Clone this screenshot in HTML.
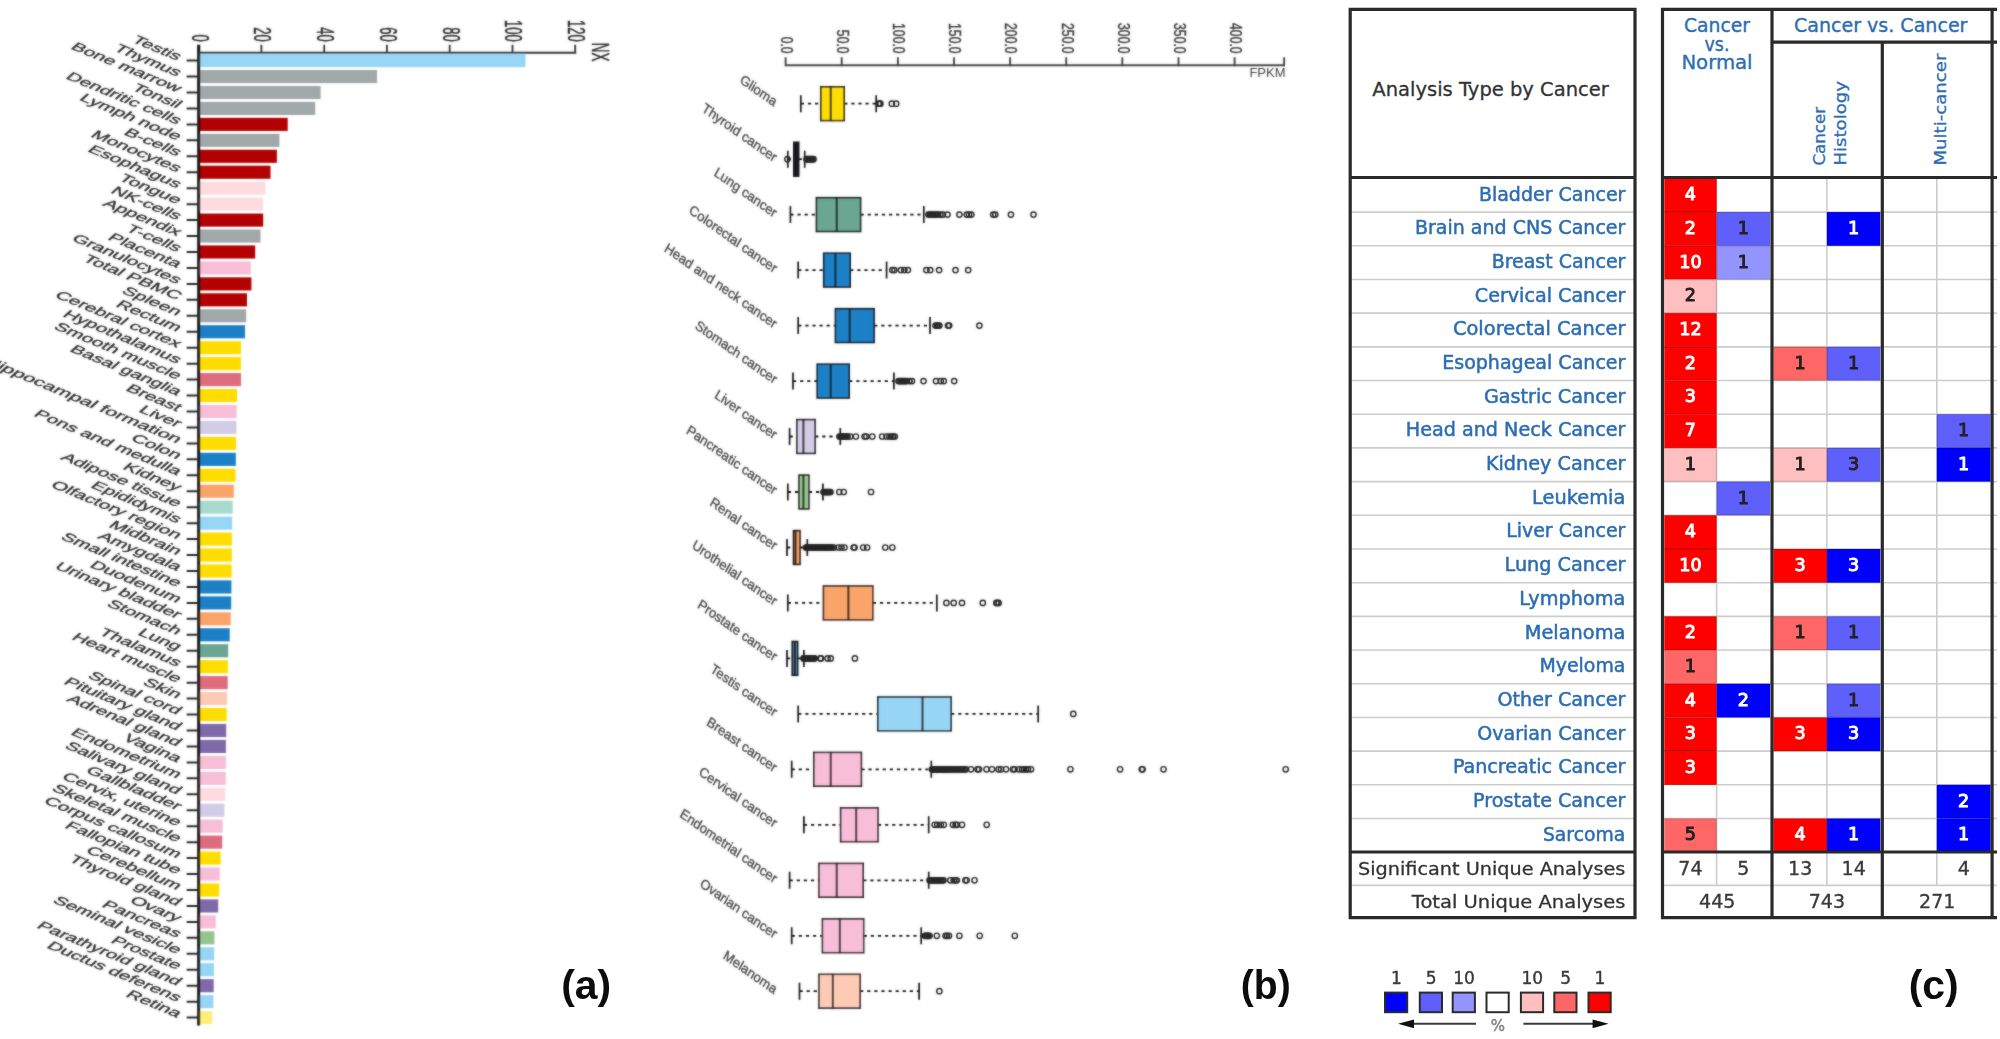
<!DOCTYPE html>
<html lang="en"><head><meta charset="utf-8"><title>Figure</title>
<style>html,body{margin:0;padding:0;background:#fff}svg{display:block}</style>
</head><body>
<svg width="2000" height="1039" viewBox="0 0 2000 1039">
<rect width="2000" height="1039" fill="#fff"/>
<defs><filter id="blA" x="-2%" y="-2%" width="104%" height="104%"><feGaussianBlur in="SourceGraphic" stdDeviation="0.8" result="b"/><feComposite in="b" in2="SourceGraphic" operator="arithmetic" k1="0" k2="0.5" k3="0.5" k4="0"/></filter></defs>
<g id="panel-a" filter="url(#blA)">
<rect x="198.7" y="54.05" width="326.8" height="13.1" fill="#97d5f6"/>
<rect x="198.7" y="70.00" width="178.3" height="13.1" fill="#a1a8a9"/>
<rect x="198.7" y="85.95" width="121.9" height="13.1" fill="#a1a8a9"/>
<rect x="198.7" y="101.90" width="116.5" height="13.1" fill="#a1a8a9"/>
<rect x="198.7" y="117.85" width="89.0" height="13.1" fill="#b30000"/>
<rect x="198.7" y="133.80" width="80.7" height="13.1" fill="#a1a8a9"/>
<rect x="198.7" y="149.75" width="78.2" height="13.1" fill="#b30000"/>
<rect x="198.7" y="165.70" width="71.8" height="13.1" fill="#b30000"/>
<rect x="198.7" y="181.65" width="66.8" height="13.1" fill="#fddbdf"/>
<rect x="198.7" y="197.60" width="64.3" height="13.1" fill="#fddbdf"/>
<rect x="198.7" y="213.55" width="64.5" height="13.1" fill="#b30000"/>
<rect x="198.7" y="229.50" width="61.8" height="13.1" fill="#a1a8a9"/>
<rect x="198.7" y="245.45" width="56.5" height="13.1" fill="#b30000"/>
<rect x="198.7" y="261.40" width="52.1" height="13.1" fill="#f8bdd7"/>
<rect x="198.7" y="277.35" width="52.7" height="13.1" fill="#b30000"/>
<rect x="198.7" y="293.30" width="48.3" height="13.1" fill="#b30000"/>
<rect x="198.7" y="309.25" width="47.5" height="13.1" fill="#a1a8a9"/>
<rect x="198.7" y="325.20" width="46.3" height="13.1" fill="#1a80c6"/>
<rect x="198.7" y="341.15" width="42.3" height="13.1" fill="#ffdd00"/>
<rect x="198.7" y="357.10" width="42.3" height="13.1" fill="#ffdd00"/>
<rect x="198.7" y="373.05" width="42.3" height="13.1" fill="#de6c7d"/>
<rect x="198.7" y="389.00" width="38.4" height="13.1" fill="#ffdd00"/>
<rect x="198.7" y="404.95" width="37.9" height="13.1" fill="#f8bdd7"/>
<rect x="198.7" y="420.90" width="37.7" height="13.1" fill="#d3cce6"/>
<rect x="198.7" y="436.85" width="37.4" height="13.1" fill="#ffdd00"/>
<rect x="198.7" y="452.80" width="37.1" height="13.1" fill="#1a80c6"/>
<rect x="198.7" y="468.75" width="36.9" height="13.1" fill="#ffdd00"/>
<rect x="198.7" y="484.70" width="35.1" height="13.1" fill="#f9a468"/>
<rect x="198.7" y="500.65" width="34.0" height="13.1" fill="#a7dacd"/>
<rect x="198.7" y="516.60" width="33.5" height="13.1" fill="#97d5f6"/>
<rect x="198.7" y="532.55" width="33.2" height="13.1" fill="#ffdd00"/>
<rect x="198.7" y="548.50" width="33.2" height="13.1" fill="#ffdd00"/>
<rect x="198.7" y="564.45" width="33.0" height="13.1" fill="#ffdd00"/>
<rect x="198.7" y="580.40" width="32.7" height="13.1" fill="#1a80c6"/>
<rect x="198.7" y="596.35" width="32.5" height="13.1" fill="#1a80c6"/>
<rect x="198.7" y="612.30" width="32.0" height="13.1" fill="#f9a468"/>
<rect x="198.7" y="628.25" width="31.0" height="13.1" fill="#1a80c6"/>
<rect x="198.7" y="644.20" width="29.5" height="13.1" fill="#6aa692"/>
<rect x="198.7" y="660.15" width="29.2" height="13.1" fill="#ffdd00"/>
<rect x="198.7" y="676.10" width="29.0" height="13.1" fill="#de6c7d"/>
<rect x="198.7" y="692.05" width="28.5" height="13.1" fill="#fdcab5"/>
<rect x="198.7" y="708.00" width="28.0" height="13.1" fill="#ffdd00"/>
<rect x="198.7" y="723.95" width="27.5" height="13.1" fill="#7f6aa9"/>
<rect x="198.7" y="739.90" width="27.2" height="13.1" fill="#7f6aa9"/>
<rect x="198.7" y="755.85" width="27.2" height="13.1" fill="#f8bdd7"/>
<rect x="198.7" y="771.80" width="27.0" height="13.1" fill="#f8bdd7"/>
<rect x="198.7" y="787.75" width="26.5" height="13.1" fill="#fddbdf"/>
<rect x="198.7" y="803.70" width="25.7" height="13.1" fill="#d3cce6"/>
<rect x="198.7" y="819.65" width="24.0" height="13.1" fill="#f8bdd7"/>
<rect x="198.7" y="835.60" width="23.5" height="13.1" fill="#de6c7d"/>
<rect x="198.7" y="851.55" width="22.0" height="13.1" fill="#ffdd00"/>
<rect x="198.7" y="867.50" width="21.0" height="13.1" fill="#f8bdd7"/>
<rect x="198.7" y="883.45" width="20.5" height="13.1" fill="#ffdd00"/>
<rect x="198.7" y="899.40" width="19.5" height="13.1" fill="#7f6aa9"/>
<rect x="198.7" y="915.35" width="17.0" height="13.1" fill="#f8bdd7"/>
<rect x="198.7" y="931.30" width="15.7" height="13.1" fill="#96c491"/>
<rect x="198.7" y="947.25" width="15.5" height="13.1" fill="#97d5f6"/>
<rect x="198.7" y="963.20" width="15.2" height="13.1" fill="#97d5f6"/>
<rect x="198.7" y="979.15" width="15.0" height="13.1" fill="#7f6aa9"/>
<rect x="198.7" y="995.10" width="14.7" height="13.1" fill="#97d5f6"/>
<rect x="198.7" y="1011.05" width="13.5" height="13.1" fill="#ffee77"/>
<path d="M198.7 44.8 V1025.6" stroke="#111" stroke-width="3" fill="none"/>
<path d="M198.7 52.8 H576.2" stroke="#333" stroke-width="2" fill="none"/>
<path d="M261.4 52.8 V44.8 M324.2 52.8 V44.8 M386.9 52.8 V44.8 M449.7 52.8 V44.8 M512.5 52.8 V44.8 M575.2 52.8 V44.8 " stroke="#333" stroke-width="1.8" fill="none"/>
<path d="M198.7 60.60 H186.7 M198.7 76.55 H186.7 M198.7 92.50 H186.7 M198.7 108.45 H186.7 M198.7 124.40 H186.7 M198.7 140.35 H186.7 M198.7 156.30 H186.7 M198.7 172.25 H186.7 M198.7 188.20 H186.7 M198.7 204.15 H186.7 M198.7 220.10 H186.7 M198.7 236.05 H186.7 M198.7 252.00 H186.7 M198.7 267.95 H186.7 M198.7 283.90 H186.7 M198.7 299.85 H186.7 M198.7 315.80 H186.7 M198.7 331.75 H186.7 M198.7 347.70 H186.7 M198.7 363.65 H186.7 M198.7 379.60 H186.7 M198.7 395.55 H186.7 M198.7 411.50 H186.7 M198.7 427.45 H186.7 M198.7 443.40 H186.7 M198.7 459.35 H186.7 M198.7 475.30 H186.7 M198.7 491.25 H186.7 M198.7 507.20 H186.7 M198.7 523.15 H186.7 M198.7 539.10 H186.7 M198.7 555.05 H186.7 M198.7 571.00 H186.7 M198.7 586.95 H186.7 M198.7 602.90 H186.7 M198.7 618.85 H186.7 M198.7 634.80 H186.7 M198.7 650.75 H186.7 M198.7 666.70 H186.7 M198.7 682.65 H186.7 M198.7 698.60 H186.7 M198.7 714.55 H186.7 M198.7 730.50 H186.7 M198.7 746.45 H186.7 M198.7 762.40 H186.7 M198.7 778.35 H186.7 M198.7 794.30 H186.7 M198.7 810.25 H186.7 M198.7 826.20 H186.7 M198.7 842.15 H186.7 M198.7 858.10 H186.7 M198.7 874.05 H186.7 M198.7 890.00 H186.7 M198.7 905.95 H186.7 M198.7 921.90 H186.7 M198.7 937.85 H186.7 M198.7 953.80 H186.7 M198.7 969.75 H186.7 M198.7 985.70 H186.7 M198.7 1001.65 H186.7 M198.7 1017.60 H186.7 " stroke="#2a2a2a" stroke-width="2" fill="none"/>
<text transform="matrix(0 0.545 -1.02 0 191.5 41.8)" text-anchor="end" font-family='"Liberation Sans", Arial, sans-serif' font-size="24" fill="#2e2e2e" stroke="#2e2e2e" stroke-width="0.5">0</text>
<text transform="matrix(0 0.545 -1.02 0 254.2 41.8)" text-anchor="end" font-family='"Liberation Sans", Arial, sans-serif' font-size="24" fill="#2e2e2e" stroke="#2e2e2e" stroke-width="0.5">20</text>
<text transform="matrix(0 0.545 -1.02 0 317.0 41.8)" text-anchor="end" font-family='"Liberation Sans", Arial, sans-serif' font-size="24" fill="#2e2e2e" stroke="#2e2e2e" stroke-width="0.5">40</text>
<text transform="matrix(0 0.545 -1.02 0 379.8 41.8)" text-anchor="end" font-family='"Liberation Sans", Arial, sans-serif' font-size="24" fill="#2e2e2e" stroke="#2e2e2e" stroke-width="0.5">60</text>
<text transform="matrix(0 0.545 -1.02 0 442.5 41.8)" text-anchor="end" font-family='"Liberation Sans", Arial, sans-serif' font-size="24" fill="#2e2e2e" stroke="#2e2e2e" stroke-width="0.5">80</text>
<text transform="matrix(0 0.545 -1.02 0 505.3 41.8)" text-anchor="end" font-family='"Liberation Sans", Arial, sans-serif' font-size="24" fill="#2e2e2e" stroke="#2e2e2e" stroke-width="0.5">100</text>
<text transform="matrix(0 0.545 -1.02 0 568.0 41.8)" text-anchor="end" font-family='"Liberation Sans", Arial, sans-serif' font-size="24" fill="#2e2e2e" stroke="#2e2e2e" stroke-width="0.5">120</text>
<text transform="matrix(0 0.56 -1.02 0 592.0 61.5)" text-anchor="end" font-family='"Liberation Sans", Arial, sans-serif' font-size="24" fill="#2e2e2e" stroke="#2e2e2e" stroke-width="0.5">NX</text>
<text transform="matrix(1.2010 0.4975 -0.6911 0.6223 176.8 60.60)" text-anchor="end" font-family='"Liberation Sans", Arial, sans-serif' font-size="15.0" fill="#303030" stroke="#303030" stroke-width="0.38">Testis</text>
<text transform="matrix(1.2010 0.4975 -0.6911 0.6223 176.8 76.55)" text-anchor="end" font-family='"Liberation Sans", Arial, sans-serif' font-size="15.0" fill="#303030" stroke="#303030" stroke-width="0.38">Thymus</text>
<text transform="matrix(1.2010 0.4975 -0.6911 0.6223 176.8 92.50)" text-anchor="end" font-family='"Liberation Sans", Arial, sans-serif' font-size="15.0" fill="#303030" stroke="#303030" stroke-width="0.38">Bone marrow</text>
<text transform="matrix(1.2010 0.4975 -0.6911 0.6223 176.8 108.45)" text-anchor="end" font-family='"Liberation Sans", Arial, sans-serif' font-size="15.0" fill="#303030" stroke="#303030" stroke-width="0.38">Tonsil</text>
<text transform="matrix(1.2010 0.4975 -0.6911 0.6223 176.8 124.40)" text-anchor="end" font-family='"Liberation Sans", Arial, sans-serif' font-size="15.0" fill="#303030" stroke="#303030" stroke-width="0.38">Dendritic cells</text>
<text transform="matrix(1.2010 0.4975 -0.6911 0.6223 176.8 140.35)" text-anchor="end" font-family='"Liberation Sans", Arial, sans-serif' font-size="15.0" fill="#303030" stroke="#303030" stroke-width="0.38">Lymph node</text>
<text transform="matrix(1.2010 0.4975 -0.6911 0.6223 176.8 156.30)" text-anchor="end" font-family='"Liberation Sans", Arial, sans-serif' font-size="15.0" fill="#303030" stroke="#303030" stroke-width="0.38">B-cells</text>
<text transform="matrix(1.2010 0.4975 -0.6911 0.6223 176.8 172.25)" text-anchor="end" font-family='"Liberation Sans", Arial, sans-serif' font-size="15.0" fill="#303030" stroke="#303030" stroke-width="0.38">Monocytes</text>
<text transform="matrix(1.2010 0.4975 -0.6911 0.6223 176.8 188.20)" text-anchor="end" font-family='"Liberation Sans", Arial, sans-serif' font-size="15.0" fill="#303030" stroke="#303030" stroke-width="0.38">Esophagus</text>
<text transform="matrix(1.2010 0.4975 -0.6911 0.6223 176.8 204.15)" text-anchor="end" font-family='"Liberation Sans", Arial, sans-serif' font-size="15.0" fill="#303030" stroke="#303030" stroke-width="0.38">Tongue</text>
<text transform="matrix(1.2010 0.4975 -0.6911 0.6223 176.8 220.10)" text-anchor="end" font-family='"Liberation Sans", Arial, sans-serif' font-size="15.0" fill="#303030" stroke="#303030" stroke-width="0.38">NK-cells</text>
<text transform="matrix(1.2010 0.4975 -0.6911 0.6223 176.8 236.05)" text-anchor="end" font-family='"Liberation Sans", Arial, sans-serif' font-size="15.0" fill="#303030" stroke="#303030" stroke-width="0.38">Appendix</text>
<text transform="matrix(1.2010 0.4975 -0.6911 0.6223 176.8 252.00)" text-anchor="end" font-family='"Liberation Sans", Arial, sans-serif' font-size="15.0" fill="#303030" stroke="#303030" stroke-width="0.38">T-cells</text>
<text transform="matrix(1.2010 0.4975 -0.6911 0.6223 176.8 267.95)" text-anchor="end" font-family='"Liberation Sans", Arial, sans-serif' font-size="15.0" fill="#303030" stroke="#303030" stroke-width="0.38">Placenta</text>
<text transform="matrix(1.2010 0.4975 -0.6911 0.6223 176.8 283.90)" text-anchor="end" font-family='"Liberation Sans", Arial, sans-serif' font-size="15.0" fill="#303030" stroke="#303030" stroke-width="0.38">Granulocytes</text>
<text transform="matrix(1.2010 0.4975 -0.6911 0.6223 176.8 299.85)" text-anchor="end" font-family='"Liberation Sans", Arial, sans-serif' font-size="15.0" fill="#303030" stroke="#303030" stroke-width="0.38">Total PBMC</text>
<text transform="matrix(1.2010 0.4975 -0.6911 0.6223 176.8 315.80)" text-anchor="end" font-family='"Liberation Sans", Arial, sans-serif' font-size="15.0" fill="#303030" stroke="#303030" stroke-width="0.38">Spleen</text>
<text transform="matrix(1.2010 0.4975 -0.6911 0.6223 176.8 331.75)" text-anchor="end" font-family='"Liberation Sans", Arial, sans-serif' font-size="15.0" fill="#303030" stroke="#303030" stroke-width="0.38">Rectum</text>
<text transform="matrix(1.2010 0.4975 -0.6911 0.6223 176.8 347.70)" text-anchor="end" font-family='"Liberation Sans", Arial, sans-serif' font-size="15.0" fill="#303030" stroke="#303030" stroke-width="0.38">Cerebral cortex</text>
<text transform="matrix(1.2010 0.4975 -0.6911 0.6223 176.8 363.65)" text-anchor="end" font-family='"Liberation Sans", Arial, sans-serif' font-size="15.0" fill="#303030" stroke="#303030" stroke-width="0.38">Hypothalamus</text>
<text transform="matrix(1.2010 0.4975 -0.6911 0.6223 176.8 379.60)" text-anchor="end" font-family='"Liberation Sans", Arial, sans-serif' font-size="15.0" fill="#303030" stroke="#303030" stroke-width="0.38">Smooth muscle</text>
<text transform="matrix(1.2010 0.4975 -0.6911 0.6223 176.8 395.55)" text-anchor="end" font-family='"Liberation Sans", Arial, sans-serif' font-size="15.0" fill="#303030" stroke="#303030" stroke-width="0.38">Basal ganglia</text>
<text transform="matrix(1.2010 0.4975 -0.6911 0.6223 176.8 411.50)" text-anchor="end" font-family='"Liberation Sans", Arial, sans-serif' font-size="15.0" fill="#303030" stroke="#303030" stroke-width="0.38">Breast</text>
<text transform="matrix(1.2010 0.4975 -0.6911 0.6223 176.8 427.45)" text-anchor="end" font-family='"Liberation Sans", Arial, sans-serif' font-size="15.0" fill="#303030" stroke="#303030" stroke-width="0.38">Liver</text>
<text transform="matrix(1.2611 0.5224 -0.6911 0.6223 176.8 443.40)" text-anchor="end" font-family='"Liberation Sans", Arial, sans-serif' font-size="15.0" fill="#303030" stroke="#303030" stroke-width="0.38">Hippocampal formation</text>
<text transform="matrix(1.2010 0.4975 -0.6911 0.6223 176.8 459.35)" text-anchor="end" font-family='"Liberation Sans", Arial, sans-serif' font-size="15.0" fill="#303030" stroke="#303030" stroke-width="0.38">Colon</text>
<text transform="matrix(1.2010 0.4975 -0.6911 0.6223 176.8 475.30)" text-anchor="end" font-family='"Liberation Sans", Arial, sans-serif' font-size="15.0" fill="#303030" stroke="#303030" stroke-width="0.38">Pons and medulla</text>
<text transform="matrix(1.2010 0.4975 -0.6911 0.6223 176.8 491.25)" text-anchor="end" font-family='"Liberation Sans", Arial, sans-serif' font-size="15.0" fill="#303030" stroke="#303030" stroke-width="0.38">Kidney</text>
<text transform="matrix(1.2010 0.4975 -0.6911 0.6223 176.8 507.20)" text-anchor="end" font-family='"Liberation Sans", Arial, sans-serif' font-size="15.0" fill="#303030" stroke="#303030" stroke-width="0.38">Adipose tissue</text>
<text transform="matrix(1.2010 0.4975 -0.6911 0.6223 176.8 523.15)" text-anchor="end" font-family='"Liberation Sans", Arial, sans-serif' font-size="15.0" fill="#303030" stroke="#303030" stroke-width="0.38">Epididymis</text>
<text transform="matrix(1.2010 0.4975 -0.6911 0.6223 176.8 539.10)" text-anchor="end" font-family='"Liberation Sans", Arial, sans-serif' font-size="15.0" fill="#303030" stroke="#303030" stroke-width="0.38">Olfactory region</text>
<text transform="matrix(1.2010 0.4975 -0.6911 0.6223 176.8 555.05)" text-anchor="end" font-family='"Liberation Sans", Arial, sans-serif' font-size="15.0" fill="#303030" stroke="#303030" stroke-width="0.38">Midbrain</text>
<text transform="matrix(1.2010 0.4975 -0.6911 0.6223 176.8 571.00)" text-anchor="end" font-family='"Liberation Sans", Arial, sans-serif' font-size="15.0" fill="#303030" stroke="#303030" stroke-width="0.38">Amygdala</text>
<text transform="matrix(1.2010 0.4975 -0.6911 0.6223 176.8 586.95)" text-anchor="end" font-family='"Liberation Sans", Arial, sans-serif' font-size="15.0" fill="#303030" stroke="#303030" stroke-width="0.38">Small intestine</text>
<text transform="matrix(1.2010 0.4975 -0.6911 0.6223 176.8 602.90)" text-anchor="end" font-family='"Liberation Sans", Arial, sans-serif' font-size="15.0" fill="#303030" stroke="#303030" stroke-width="0.38">Duodenum</text>
<text transform="matrix(1.2010 0.4975 -0.6911 0.6223 176.8 618.85)" text-anchor="end" font-family='"Liberation Sans", Arial, sans-serif' font-size="15.0" fill="#303030" stroke="#303030" stroke-width="0.38">Urinary bladder</text>
<text transform="matrix(1.2010 0.4975 -0.6911 0.6223 176.8 634.80)" text-anchor="end" font-family='"Liberation Sans", Arial, sans-serif' font-size="15.0" fill="#303030" stroke="#303030" stroke-width="0.38">Stomach</text>
<text transform="matrix(1.2010 0.4975 -0.6911 0.6223 176.8 650.75)" text-anchor="end" font-family='"Liberation Sans", Arial, sans-serif' font-size="15.0" fill="#303030" stroke="#303030" stroke-width="0.38">Lung</text>
<text transform="matrix(1.2010 0.4975 -0.6911 0.6223 176.8 666.70)" text-anchor="end" font-family='"Liberation Sans", Arial, sans-serif' font-size="15.0" fill="#303030" stroke="#303030" stroke-width="0.38">Thalamus</text>
<text transform="matrix(1.2010 0.4975 -0.6911 0.6223 176.8 682.65)" text-anchor="end" font-family='"Liberation Sans", Arial, sans-serif' font-size="15.0" fill="#303030" stroke="#303030" stroke-width="0.38">Heart muscle</text>
<text transform="matrix(1.2010 0.4975 -0.6911 0.6223 176.8 698.60)" text-anchor="end" font-family='"Liberation Sans", Arial, sans-serif' font-size="15.0" fill="#303030" stroke="#303030" stroke-width="0.38">Skin</text>
<text transform="matrix(1.2010 0.4975 -0.6911 0.6223 176.8 714.55)" text-anchor="end" font-family='"Liberation Sans", Arial, sans-serif' font-size="15.0" fill="#303030" stroke="#303030" stroke-width="0.38">Spinal cord</text>
<text transform="matrix(1.2010 0.4975 -0.6911 0.6223 176.8 730.50)" text-anchor="end" font-family='"Liberation Sans", Arial, sans-serif' font-size="15.0" fill="#303030" stroke="#303030" stroke-width="0.38">Pituitary gland</text>
<text transform="matrix(1.2010 0.4975 -0.6911 0.6223 176.8 746.45)" text-anchor="end" font-family='"Liberation Sans", Arial, sans-serif' font-size="15.0" fill="#303030" stroke="#303030" stroke-width="0.38">Adrenal gland</text>
<text transform="matrix(1.2010 0.4975 -0.6911 0.6223 176.8 762.40)" text-anchor="end" font-family='"Liberation Sans", Arial, sans-serif' font-size="15.0" fill="#303030" stroke="#303030" stroke-width="0.38">Vagina</text>
<text transform="matrix(1.2010 0.4975 -0.6911 0.6223 176.8 778.35)" text-anchor="end" font-family='"Liberation Sans", Arial, sans-serif' font-size="15.0" fill="#303030" stroke="#303030" stroke-width="0.38">Endometrium</text>
<text transform="matrix(1.2010 0.4975 -0.6911 0.6223 176.8 794.30)" text-anchor="end" font-family='"Liberation Sans", Arial, sans-serif' font-size="15.0" fill="#303030" stroke="#303030" stroke-width="0.38">Salivary gland</text>
<text transform="matrix(1.2010 0.4975 -0.6911 0.6223 176.8 810.25)" text-anchor="end" font-family='"Liberation Sans", Arial, sans-serif' font-size="15.0" fill="#303030" stroke="#303030" stroke-width="0.38">Gallbladder</text>
<text transform="matrix(1.2010 0.4975 -0.6911 0.6223 176.8 826.20)" text-anchor="end" font-family='"Liberation Sans", Arial, sans-serif' font-size="15.0" fill="#303030" stroke="#303030" stroke-width="0.38">Cervix, uterine</text>
<text transform="matrix(1.2010 0.4975 -0.6911 0.6223 176.8 842.15)" text-anchor="end" font-family='"Liberation Sans", Arial, sans-serif' font-size="15.0" fill="#303030" stroke="#303030" stroke-width="0.38">Skeletal muscle</text>
<text transform="matrix(1.2010 0.4975 -0.6911 0.6223 176.8 858.10)" text-anchor="end" font-family='"Liberation Sans", Arial, sans-serif' font-size="15.0" fill="#303030" stroke="#303030" stroke-width="0.38">Corpus callosum</text>
<text transform="matrix(1.2010 0.4975 -0.6911 0.6223 176.8 874.05)" text-anchor="end" font-family='"Liberation Sans", Arial, sans-serif' font-size="15.0" fill="#303030" stroke="#303030" stroke-width="0.38">Fallopian tube</text>
<text transform="matrix(1.2010 0.4975 -0.6911 0.6223 176.8 890.00)" text-anchor="end" font-family='"Liberation Sans", Arial, sans-serif' font-size="15.0" fill="#303030" stroke="#303030" stroke-width="0.38">Cerebellum</text>
<text transform="matrix(1.2010 0.4975 -0.6911 0.6223 176.8 905.95)" text-anchor="end" font-family='"Liberation Sans", Arial, sans-serif' font-size="15.0" fill="#303030" stroke="#303030" stroke-width="0.38">Thyroid gland</text>
<text transform="matrix(1.2010 0.4975 -0.6911 0.6223 176.8 921.90)" text-anchor="end" font-family='"Liberation Sans", Arial, sans-serif' font-size="15.0" fill="#303030" stroke="#303030" stroke-width="0.38">Ovary</text>
<text transform="matrix(1.2010 0.4975 -0.6911 0.6223 176.8 937.85)" text-anchor="end" font-family='"Liberation Sans", Arial, sans-serif' font-size="15.0" fill="#303030" stroke="#303030" stroke-width="0.38">Pancreas</text>
<text transform="matrix(1.2010 0.4975 -0.6911 0.6223 176.8 953.80)" text-anchor="end" font-family='"Liberation Sans", Arial, sans-serif' font-size="15.0" fill="#303030" stroke="#303030" stroke-width="0.38">Seminal vesicle</text>
<text transform="matrix(1.2010 0.4975 -0.6911 0.6223 176.8 969.75)" text-anchor="end" font-family='"Liberation Sans", Arial, sans-serif' font-size="15.0" fill="#303030" stroke="#303030" stroke-width="0.38">Prostate</text>
<text transform="matrix(1.2010 0.4975 -0.6911 0.6223 176.8 985.70)" text-anchor="end" font-family='"Liberation Sans", Arial, sans-serif' font-size="15.0" fill="#303030" stroke="#303030" stroke-width="0.38">Parathyroid gland</text>
<text transform="matrix(1.2010 0.4975 -0.6911 0.6223 176.8 1001.65)" text-anchor="end" font-family='"Liberation Sans", Arial, sans-serif' font-size="15.0" fill="#303030" stroke="#303030" stroke-width="0.38">Ductus deferens</text>
<text transform="matrix(1.2010 0.4975 -0.6911 0.6223 176.8 1017.60)" text-anchor="end" font-family='"Liberation Sans", Arial, sans-serif' font-size="15.0" fill="#303030" stroke="#303030" stroke-width="0.38">Retina</text>
</g>
<defs><filter id="blB" x="-2%" y="-2%" width="104%" height="104%"><feGaussianBlur in="SourceGraphic" stdDeviation="0.8" result="b"/><feComposite in="b" in2="SourceGraphic" operator="arithmetic" k1="0" k2="0.5" k3="0.5" k4="0"/></filter></defs>
<g id="panel-b" filter="url(#blB)">
<path d="M785.6 65.2 H1285.0" stroke="#444" stroke-width="2" fill="none"/>
<path d="M785.6 66.2 V57.2 M841.7 66.2 V57.2 M897.9 66.2 V57.2 M954.0 66.2 V57.2 M1010.1 66.2 V57.2 M1066.2 66.2 V57.2 M1122.3 66.2 V57.2 M1178.5 66.2 V57.2 M1234.6 66.2 V57.2 M1284.1 66.2 V57.2" stroke="#444" stroke-width="1.9" fill="none"/>
<text transform="matrix(0 1.0 -1.28 0 780.9 53.6)" text-anchor="end" font-family='"Liberation Sans", Arial, sans-serif' font-size="12.2" fill="#3a3a3a" stroke="#3a3a3a" stroke-width="0.35">0.0</text>
<text transform="matrix(0 1.0 -1.28 0 837.0 53.6)" text-anchor="end" font-family='"Liberation Sans", Arial, sans-serif' font-size="12.2" fill="#3a3a3a" stroke="#3a3a3a" stroke-width="0.35">50.0</text>
<text transform="matrix(0 1.0 -1.28 0 893.1 53.6)" text-anchor="end" font-family='"Liberation Sans", Arial, sans-serif' font-size="12.2" fill="#3a3a3a" stroke="#3a3a3a" stroke-width="0.35">100.0</text>
<text transform="matrix(0 1.0 -1.28 0 949.3 53.6)" text-anchor="end" font-family='"Liberation Sans", Arial, sans-serif' font-size="12.2" fill="#3a3a3a" stroke="#3a3a3a" stroke-width="0.35">150.0</text>
<text transform="matrix(0 1.0 -1.28 0 1005.4 53.6)" text-anchor="end" font-family='"Liberation Sans", Arial, sans-serif' font-size="12.2" fill="#3a3a3a" stroke="#3a3a3a" stroke-width="0.35">200.0</text>
<text transform="matrix(0 1.0 -1.28 0 1061.5 53.6)" text-anchor="end" font-family='"Liberation Sans", Arial, sans-serif' font-size="12.2" fill="#3a3a3a" stroke="#3a3a3a" stroke-width="0.35">250.0</text>
<text transform="matrix(0 1.0 -1.28 0 1117.6 53.6)" text-anchor="end" font-family='"Liberation Sans", Arial, sans-serif' font-size="12.2" fill="#3a3a3a" stroke="#3a3a3a" stroke-width="0.35">300.0</text>
<text transform="matrix(0 1.0 -1.28 0 1173.8 53.6)" text-anchor="end" font-family='"Liberation Sans", Arial, sans-serif' font-size="12.2" fill="#3a3a3a" stroke="#3a3a3a" stroke-width="0.35">350.0</text>
<text transform="matrix(0 1.0 -1.28 0 1229.9 53.6)" text-anchor="end" font-family='"Liberation Sans", Arial, sans-serif' font-size="12.2" fill="#3a3a3a" stroke="#3a3a3a" stroke-width="0.35">400.0</text>
<text x="1285.5" y="77.4" text-anchor="end" font-family='"Liberation Sans", Arial, sans-serif' font-size="13" fill="#444">FPKM</text>
<path d="M800.8 103.7 H820.8 M844.2 103.7 H876.2" stroke="#151515" stroke-width="1.8" stroke-dasharray="3.2 3.9" fill="none"/>
<path d="M800.8 95.2 V112.2 M876.2 95.2 V112.2" stroke="#161616" stroke-width="1.7" fill="none"/>
<rect x="820.8" y="86.8" width="23.4" height="33.8" fill="#ffdd00" stroke="#161616" stroke-width="1.6"/>
<path d="M830.7 86.8 V120.6" stroke="#161616" stroke-width="1.9" fill="none"/>
<g fill="none" stroke="#262626" stroke-width="1.4"><circle cx="878.6" cy="103.7" r="2.65"/><circle cx="879.6" cy="103.7" r="2.65"/><circle cx="880.4" cy="103.7" r="2.65"/><circle cx="891.8" cy="103.7" r="2.65"/><circle cx="896.2" cy="103.7" r="2.65"/></g>
<path d="M787.8 159.2 H793.8 M798.7 159.2 H804.7" stroke="#151515" stroke-width="1.8" stroke-dasharray="3.2 3.9" fill="none"/>
<path d="M787.8 150.7 V167.7 M804.7 150.7 V167.7" stroke="#161616" stroke-width="1.7" fill="none"/>
<rect x="793.8" y="142.3" width="4.9" height="33.8" fill="#1d1a33" stroke="#161616" stroke-width="1.6"/>
<path d="M796.2 142.3 V176.1" stroke="#161616" stroke-width="1.9" fill="none"/>
<g fill="none" stroke="#262626" stroke-width="1.4"><circle cx="806.5" cy="159.2" r="2.65"/><circle cx="807.4" cy="159.2" r="2.65"/><circle cx="808.2" cy="159.2" r="2.65"/><circle cx="809.1" cy="159.2" r="2.65"/><circle cx="810.0" cy="159.2" r="2.65"/><circle cx="810.9" cy="159.2" r="2.65"/><circle cx="811.8" cy="159.2" r="2.65"/><circle cx="812.6" cy="159.2" r="2.65"/><circle cx="813.5" cy="159.2" r="2.65"/><circle cx="787.4" cy="159.2" r="2.65"/></g>
<path d="M790.4 214.6 H816.4 M860.6 214.6 H923.8" stroke="#151515" stroke-width="1.8" stroke-dasharray="3.2 3.9" fill="none"/>
<path d="M790.4 206.1 V223.1 M923.8 206.1 V223.1" stroke="#161616" stroke-width="1.7" fill="none"/>
<rect x="816.4" y="197.7" width="44.2" height="33.8" fill="#6aa692" stroke="#161616" stroke-width="1.6"/>
<path d="M836.7 197.7 V231.5" stroke="#161616" stroke-width="1.9" fill="none"/>
<g fill="none" stroke="#262626" stroke-width="1.4"><circle cx="928.5" cy="214.6" r="2.65"/><circle cx="929.7" cy="214.6" r="2.65"/><circle cx="930.9" cy="214.6" r="2.65"/><circle cx="932.1" cy="214.6" r="2.65"/><circle cx="933.2" cy="214.6" r="2.65"/><circle cx="934.4" cy="214.6" r="2.65"/><circle cx="935.6" cy="214.6" r="2.65"/><circle cx="936.8" cy="214.6" r="2.65"/><circle cx="938.0" cy="214.6" r="2.65"/><circle cx="940.5" cy="214.6" r="2.65"/><circle cx="943.0" cy="214.6" r="2.65"/><circle cx="947.5" cy="214.6" r="2.65"/><circle cx="959.4" cy="214.6" r="2.65"/><circle cx="966.7" cy="214.6" r="2.65"/><circle cx="969.0" cy="214.6" r="2.65"/><circle cx="971.3" cy="214.6" r="2.65"/><circle cx="993.2" cy="214.6" r="2.65"/><circle cx="995.3" cy="214.6" r="2.65"/><circle cx="1010.9" cy="214.6" r="2.65"/><circle cx="1033.5" cy="214.6" r="2.65"/></g>
<path d="M798.2 270.1 H823.7 M850.2 270.1 H886.6" stroke="#151515" stroke-width="1.8" stroke-dasharray="3.2 3.9" fill="none"/>
<path d="M798.2 261.6 V278.6 M886.6 261.6 V278.6" stroke="#161616" stroke-width="1.7" fill="none"/>
<rect x="823.7" y="253.2" width="26.5" height="33.8" fill="#1a80c6" stroke="#161616" stroke-width="1.6"/>
<path d="M835.4 253.2 V287.0" stroke="#161616" stroke-width="1.9" fill="none"/>
<g fill="none" stroke="#262626" stroke-width="1.4"><circle cx="892.3" cy="270.1" r="2.65"/><circle cx="894.4" cy="270.1" r="2.65"/><circle cx="900.9" cy="270.1" r="2.65"/><circle cx="904.3" cy="270.1" r="2.65"/><circle cx="907.9" cy="270.1" r="2.65"/><circle cx="926.4" cy="270.1" r="2.65"/><circle cx="930.3" cy="270.1" r="2.65"/><circle cx="939.1" cy="270.1" r="2.65"/><circle cx="955.5" cy="270.1" r="2.65"/><circle cx="968.2" cy="270.1" r="2.65"/></g>
<path d="M798.2 325.6 H835.4 M874.1 325.6 H930.0" stroke="#151515" stroke-width="1.8" stroke-dasharray="3.2 3.9" fill="none"/>
<path d="M798.2 317.1 V334.1 M930.0 317.1 V334.1" stroke="#161616" stroke-width="1.7" fill="none"/>
<rect x="835.4" y="308.7" width="38.7" height="33.8" fill="#1a80c6" stroke="#161616" stroke-width="1.6"/>
<path d="M849.7 308.7 V342.5" stroke="#161616" stroke-width="1.9" fill="none"/>
<g fill="none" stroke="#262626" stroke-width="1.4"><circle cx="935.5" cy="325.6" r="2.65"/><circle cx="937.0" cy="325.6" r="2.65"/><circle cx="938.2" cy="325.6" r="2.65"/><circle cx="939.4" cy="325.6" r="2.65"/><circle cx="948.0" cy="325.6" r="2.65"/><circle cx="949.2" cy="325.6" r="2.65"/><circle cx="979.4" cy="325.6" r="2.65"/></g>
<path d="M793.0 381.1 H817.2 M849.2 381.1 H893.9" stroke="#151515" stroke-width="1.8" stroke-dasharray="3.2 3.9" fill="none"/>
<path d="M793.0 372.6 V389.6 M893.9 372.6 V389.6" stroke="#161616" stroke-width="1.7" fill="none"/>
<rect x="817.2" y="364.2" width="32.0" height="33.8" fill="#1a80c6" stroke="#161616" stroke-width="1.6"/>
<path d="M830.7 364.2 V397.9" stroke="#161616" stroke-width="1.9" fill="none"/>
<g fill="none" stroke="#262626" stroke-width="1.4"><circle cx="898.5" cy="381.1" r="2.65"/><circle cx="899.6" cy="381.1" r="2.65"/><circle cx="900.8" cy="381.1" r="2.65"/><circle cx="901.9" cy="381.1" r="2.65"/><circle cx="903.1" cy="381.1" r="2.65"/><circle cx="904.2" cy="381.1" r="2.65"/><circle cx="905.4" cy="381.1" r="2.65"/><circle cx="906.5" cy="381.1" r="2.65"/><circle cx="909.5" cy="381.1" r="2.65"/><circle cx="912.0" cy="381.1" r="2.65"/><circle cx="923.5" cy="381.1" r="2.65"/><circle cx="936.0" cy="381.1" r="2.65"/><circle cx="940.7" cy="381.1" r="2.65"/><circle cx="943.8" cy="381.1" r="2.65"/><circle cx="954.2" cy="381.1" r="2.65"/></g>
<path d="M789.6 436.5 H796.9 M815.1 436.5 H840.3" stroke="#151515" stroke-width="1.8" stroke-dasharray="3.2 3.9" fill="none"/>
<path d="M789.6 428.0 V445.0 M840.3 428.0 V445.0" stroke="#161616" stroke-width="1.7" fill="none"/>
<rect x="796.9" y="419.6" width="18.2" height="33.8" fill="#d3cce6" stroke="#161616" stroke-width="1.6"/>
<path d="M803.4 419.6 V453.4" stroke="#161616" stroke-width="1.9" fill="none"/>
<g fill="none" stroke="#262626" stroke-width="1.4"><circle cx="839.5" cy="436.5" r="2.65"/><circle cx="840.4" cy="436.5" r="2.65"/><circle cx="841.3" cy="436.5" r="2.65"/><circle cx="842.2" cy="436.5" r="2.65"/><circle cx="843.1" cy="436.5" r="2.65"/><circle cx="843.9" cy="436.5" r="2.65"/><circle cx="844.8" cy="436.5" r="2.65"/><circle cx="845.7" cy="436.5" r="2.65"/><circle cx="846.6" cy="436.5" r="2.65"/><circle cx="847.5" cy="436.5" r="2.65"/><circle cx="850.2" cy="436.5" r="2.65"/><circle cx="855.9" cy="436.5" r="2.65"/><circle cx="864.6" cy="436.5" r="2.65"/><circle cx="866.4" cy="436.5" r="2.65"/><circle cx="872.3" cy="436.5" r="2.65"/><circle cx="882.2" cy="436.5" r="2.65"/><circle cx="886.5" cy="436.5" r="2.65"/><circle cx="889.5" cy="436.5" r="2.65"/><circle cx="891.5" cy="436.5" r="2.65"/><circle cx="893.3" cy="436.5" r="2.65"/><circle cx="894.8" cy="436.5" r="2.65"/></g>
<path d="M787.8 492.0 H799.0 M808.9 492.0 H822.9" stroke="#151515" stroke-width="1.8" stroke-dasharray="3.2 3.9" fill="none"/>
<path d="M787.8 483.5 V500.5 M822.9 483.5 V500.5" stroke="#161616" stroke-width="1.7" fill="none"/>
<rect x="799.0" y="475.1" width="9.9" height="33.8" fill="#96c491" stroke="#161616" stroke-width="1.6"/>
<path d="M803.4 475.1 V508.9" stroke="#161616" stroke-width="1.9" fill="none"/>
<g fill="none" stroke="#262626" stroke-width="1.4"><circle cx="823.5" cy="492.0" r="2.65"/><circle cx="824.4" cy="492.0" r="2.65"/><circle cx="825.2" cy="492.0" r="2.65"/><circle cx="826.1" cy="492.0" r="2.65"/><circle cx="827.0" cy="492.0" r="2.65"/><circle cx="827.9" cy="492.0" r="2.65"/><circle cx="828.8" cy="492.0" r="2.65"/><circle cx="829.6" cy="492.0" r="2.65"/><circle cx="830.5" cy="492.0" r="2.65"/><circle cx="839.3" cy="492.0" r="2.65"/><circle cx="843.7" cy="492.0" r="2.65"/><circle cx="871.0" cy="492.0" r="2.65"/></g>
<path d="M787.0 547.5 H793.5 M800.0 547.5 H807.3" stroke="#151515" stroke-width="1.8" stroke-dasharray="3.2 3.9" fill="none"/>
<path d="M787.0 539.0 V556.0 M807.3 539.0 V556.0" stroke="#161616" stroke-width="1.7" fill="none"/>
<rect x="793.5" y="530.6" width="6.5" height="33.8" fill="#f09a5e" stroke="#161616" stroke-width="1.6"/>
<path d="M795.5 530.6 V564.4" stroke="#161616" stroke-width="1.9" fill="none"/>
<g fill="none" stroke="#262626" stroke-width="1.4"><circle cx="806.0" cy="547.5" r="2.65"/><circle cx="806.7" cy="547.5" r="2.65"/><circle cx="807.3" cy="547.5" r="2.65"/><circle cx="808.0" cy="547.5" r="2.65"/><circle cx="808.7" cy="547.5" r="2.65"/><circle cx="809.3" cy="547.5" r="2.65"/><circle cx="810.0" cy="547.5" r="2.65"/><circle cx="810.7" cy="547.5" r="2.65"/><circle cx="811.3" cy="547.5" r="2.65"/><circle cx="812.0" cy="547.5" r="2.65"/><circle cx="812.7" cy="547.5" r="2.65"/><circle cx="813.3" cy="547.5" r="2.65"/><circle cx="814.0" cy="547.5" r="2.65"/><circle cx="814.7" cy="547.5" r="2.65"/><circle cx="815.3" cy="547.5" r="2.65"/><circle cx="816.0" cy="547.5" r="2.65"/><circle cx="816.7" cy="547.5" r="2.65"/><circle cx="817.3" cy="547.5" r="2.65"/><circle cx="818.0" cy="547.5" r="2.65"/><circle cx="818.7" cy="547.5" r="2.65"/><circle cx="819.3" cy="547.5" r="2.65"/><circle cx="820.0" cy="547.5" r="2.65"/><circle cx="820.7" cy="547.5" r="2.65"/><circle cx="821.3" cy="547.5" r="2.65"/><circle cx="822.0" cy="547.5" r="2.65"/><circle cx="822.7" cy="547.5" r="2.65"/><circle cx="823.3" cy="547.5" r="2.65"/><circle cx="824.0" cy="547.5" r="2.65"/><circle cx="824.7" cy="547.5" r="2.65"/><circle cx="825.3" cy="547.5" r="2.65"/><circle cx="826.0" cy="547.5" r="2.65"/><circle cx="826.7" cy="547.5" r="2.65"/><circle cx="827.3" cy="547.5" r="2.65"/><circle cx="828.0" cy="547.5" r="2.65"/><circle cx="828.7" cy="547.5" r="2.65"/><circle cx="829.3" cy="547.5" r="2.65"/><circle cx="830.0" cy="547.5" r="2.65"/><circle cx="830.7" cy="547.5" r="2.65"/><circle cx="831.3" cy="547.5" r="2.65"/><circle cx="832.0" cy="547.5" r="2.65"/><circle cx="834.0" cy="547.5" r="2.65"/><circle cx="838.5" cy="547.5" r="2.65"/><circle cx="841.5" cy="547.5" r="2.65"/><circle cx="844.5" cy="547.5" r="2.65"/><circle cx="853.6" cy="547.5" r="2.65"/><circle cx="854.6" cy="547.5" r="2.65"/><circle cx="863.2" cy="547.5" r="2.65"/><circle cx="867.1" cy="547.5" r="2.65"/><circle cx="885.3" cy="547.5" r="2.65"/><circle cx="892.3" cy="547.5" r="2.65"/></g>
<path d="M787.8 602.9 H823.4 M872.8 602.9 H936.8" stroke="#151515" stroke-width="1.8" stroke-dasharray="3.2 3.9" fill="none"/>
<path d="M787.8 594.4 V611.4 M936.8 594.4 V611.4" stroke="#161616" stroke-width="1.7" fill="none"/>
<rect x="823.4" y="586.0" width="49.4" height="33.8" fill="#f9a468" stroke="#161616" stroke-width="1.6"/>
<path d="M848.4 586.0 V619.8" stroke="#161616" stroke-width="1.9" fill="none"/>
<g fill="none" stroke="#262626" stroke-width="1.4"><circle cx="946.4" cy="602.9" r="2.65"/><circle cx="953.7" cy="602.9" r="2.65"/><circle cx="962.0" cy="602.9" r="2.65"/><circle cx="982.8" cy="602.9" r="2.65"/><circle cx="996.3" cy="602.9" r="2.65"/><circle cx="997.5" cy="602.9" r="2.65"/><circle cx="998.6" cy="602.9" r="2.65"/></g>
<path d="M787.0 658.4 H792.2 M797.7 658.4 H803.9" stroke="#151515" stroke-width="1.8" stroke-dasharray="3.2 3.9" fill="none"/>
<path d="M787.0 649.9 V666.9 M803.9 649.9 V666.9" stroke="#161616" stroke-width="1.7" fill="none"/>
<rect x="792.2" y="641.5" width="5.5" height="33.8" fill="#4b7c9c" stroke="#161616" stroke-width="1.6"/>
<path d="M794.8 641.5 V675.3" stroke="#161616" stroke-width="1.9" fill="none"/>
<g fill="none" stroke="#262626" stroke-width="1.4"><circle cx="803.5" cy="658.4" r="2.65"/><circle cx="804.1" cy="658.4" r="2.65"/><circle cx="804.7" cy="658.4" r="2.65"/><circle cx="805.2" cy="658.4" r="2.65"/><circle cx="805.8" cy="658.4" r="2.65"/><circle cx="806.4" cy="658.4" r="2.65"/><circle cx="807.0" cy="658.4" r="2.65"/><circle cx="807.6" cy="658.4" r="2.65"/><circle cx="808.1" cy="658.4" r="2.65"/><circle cx="808.7" cy="658.4" r="2.65"/><circle cx="809.3" cy="658.4" r="2.65"/><circle cx="809.9" cy="658.4" r="2.65"/><circle cx="810.4" cy="658.4" r="2.65"/><circle cx="811.0" cy="658.4" r="2.65"/><circle cx="811.6" cy="658.4" r="2.65"/><circle cx="812.2" cy="658.4" r="2.65"/><circle cx="812.8" cy="658.4" r="2.65"/><circle cx="813.3" cy="658.4" r="2.65"/><circle cx="813.9" cy="658.4" r="2.65"/><circle cx="814.5" cy="658.4" r="2.65"/><circle cx="820.3" cy="658.4" r="2.65"/><circle cx="821.0" cy="658.4" r="2.65"/><circle cx="827.6" cy="658.4" r="2.65"/><circle cx="830.7" cy="658.4" r="2.65"/><circle cx="854.9" cy="658.4" r="2.65"/></g>
<path d="M798.2 713.9 H877.8 M951.1 713.9 H1038.2" stroke="#151515" stroke-width="1.8" stroke-dasharray="3.2 3.9" fill="none"/>
<path d="M798.2 705.4 V722.4 M1038.2 705.4 V722.4" stroke="#161616" stroke-width="1.7" fill="none"/>
<rect x="877.8" y="697.0" width="73.3" height="33.8" fill="#97d5f6" stroke="#161616" stroke-width="1.6"/>
<path d="M922.5 697.0 V730.8" stroke="#161616" stroke-width="1.9" fill="none"/>
<g fill="none" stroke="#262626" stroke-width="1.4"><circle cx="1073.3" cy="713.9" r="2.65"/></g>
<path d="M791.7 769.3 H813.8 M861.4 769.3 H931.3" stroke="#151515" stroke-width="1.8" stroke-dasharray="3.2 3.9" fill="none"/>
<path d="M791.7 760.8 V777.8 M931.3 760.8 V777.8" stroke="#161616" stroke-width="1.7" fill="none"/>
<rect x="813.8" y="752.4" width="47.6" height="33.8" fill="#f8bdd7" stroke="#161616" stroke-width="1.6"/>
<path d="M830.7 752.4 V786.2" stroke="#161616" stroke-width="1.9" fill="none"/>
<g fill="none" stroke="#262626" stroke-width="1.4"><circle cx="932.0" cy="769.3" r="2.65"/><circle cx="932.7" cy="769.3" r="2.65"/><circle cx="933.4" cy="769.3" r="2.65"/><circle cx="934.1" cy="769.3" r="2.65"/><circle cx="934.8" cy="769.3" r="2.65"/><circle cx="935.5" cy="769.3" r="2.65"/><circle cx="936.2" cy="769.3" r="2.65"/><circle cx="936.9" cy="769.3" r="2.65"/><circle cx="937.6" cy="769.3" r="2.65"/><circle cx="938.3" cy="769.3" r="2.65"/><circle cx="939.0" cy="769.3" r="2.65"/><circle cx="939.7" cy="769.3" r="2.65"/><circle cx="940.3" cy="769.3" r="2.65"/><circle cx="941.0" cy="769.3" r="2.65"/><circle cx="941.7" cy="769.3" r="2.65"/><circle cx="942.4" cy="769.3" r="2.65"/><circle cx="943.1" cy="769.3" r="2.65"/><circle cx="943.8" cy="769.3" r="2.65"/><circle cx="944.5" cy="769.3" r="2.65"/><circle cx="945.2" cy="769.3" r="2.65"/><circle cx="945.9" cy="769.3" r="2.65"/><circle cx="946.6" cy="769.3" r="2.65"/><circle cx="947.3" cy="769.3" r="2.65"/><circle cx="948.0" cy="769.3" r="2.65"/><circle cx="949.0" cy="769.3" r="2.65"/><circle cx="950.3" cy="769.3" r="2.65"/><circle cx="951.6" cy="769.3" r="2.65"/><circle cx="952.9" cy="769.3" r="2.65"/><circle cx="954.2" cy="769.3" r="2.65"/><circle cx="955.5" cy="769.3" r="2.65"/><circle cx="956.8" cy="769.3" r="2.65"/><circle cx="958.2" cy="769.3" r="2.65"/><circle cx="959.5" cy="769.3" r="2.65"/><circle cx="960.8" cy="769.3" r="2.65"/><circle cx="962.1" cy="769.3" r="2.65"/><circle cx="963.4" cy="769.3" r="2.65"/><circle cx="964.7" cy="769.3" r="2.65"/><circle cx="966.0" cy="769.3" r="2.65"/><circle cx="971.0" cy="769.3" r="2.65"/><circle cx="977.5" cy="769.3" r="2.65"/><circle cx="979.0" cy="769.3" r="2.65"/><circle cx="986.5" cy="769.3" r="2.65"/><circle cx="992.0" cy="769.3" r="2.65"/><circle cx="998.5" cy="769.3" r="2.65"/><circle cx="1001.0" cy="769.3" r="2.65"/><circle cx="1006.0" cy="769.3" r="2.65"/><circle cx="1013.0" cy="769.3" r="2.65"/><circle cx="1014.5" cy="769.3" r="2.65"/><circle cx="1019.0" cy="769.3" r="2.65"/><circle cx="1022.0" cy="769.3" r="2.65"/><circle cx="1024.0" cy="769.3" r="2.65"/><circle cx="1026.0" cy="769.3" r="2.65"/><circle cx="1028.0" cy="769.3" r="2.65"/><circle cx="1031.0" cy="769.3" r="2.65"/><circle cx="1070.4" cy="769.3" r="2.65"/><circle cx="1120.1" cy="769.3" r="2.65"/><circle cx="1141.8" cy="769.3" r="2.65"/><circle cx="1142.6" cy="769.3" r="2.65"/><circle cx="1163.5" cy="769.3" r="2.65"/><circle cx="1285.7" cy="769.3" r="2.65"/></g>
<path d="M803.9 824.8 H840.6 M878.0 824.8 H928.7" stroke="#151515" stroke-width="1.8" stroke-dasharray="3.2 3.9" fill="none"/>
<path d="M803.9 816.3 V833.3 M928.7 816.3 V833.3" stroke="#161616" stroke-width="1.7" fill="none"/>
<rect x="840.6" y="807.9" width="37.4" height="33.8" fill="#f8bdd7" stroke="#161616" stroke-width="1.6"/>
<path d="M856.2 807.9 V841.7" stroke="#161616" stroke-width="1.9" fill="none"/>
<g fill="none" stroke="#262626" stroke-width="1.4"><circle cx="934.7" cy="824.8" r="2.65"/><circle cx="937.3" cy="824.8" r="2.65"/><circle cx="940.7" cy="824.8" r="2.65"/><circle cx="943.8" cy="824.8" r="2.65"/><circle cx="952.9" cy="824.8" r="2.65"/><circle cx="955.6" cy="824.8" r="2.65"/><circle cx="957.0" cy="824.8" r="2.65"/><circle cx="962.0" cy="824.8" r="2.65"/><circle cx="986.7" cy="824.8" r="2.65"/></g>
<path d="M789.6 880.3 H819.0 M863.2 880.3 H928.7" stroke="#151515" stroke-width="1.8" stroke-dasharray="3.2 3.9" fill="none"/>
<path d="M789.6 871.8 V888.8 M928.7 871.8 V888.8" stroke="#161616" stroke-width="1.7" fill="none"/>
<rect x="819.0" y="863.4" width="44.2" height="33.8" fill="#f8bdd7" stroke="#161616" stroke-width="1.6"/>
<path d="M836.7 863.4 V897.2" stroke="#161616" stroke-width="1.9" fill="none"/>
<g fill="none" stroke="#262626" stroke-width="1.4"><circle cx="929.5" cy="880.3" r="2.65"/><circle cx="930.6" cy="880.3" r="2.65"/><circle cx="931.7" cy="880.3" r="2.65"/><circle cx="932.7" cy="880.3" r="2.65"/><circle cx="933.8" cy="880.3" r="2.65"/><circle cx="934.9" cy="880.3" r="2.65"/><circle cx="936.0" cy="880.3" r="2.65"/><circle cx="937.0" cy="880.3" r="2.65"/><circle cx="938.1" cy="880.3" r="2.65"/><circle cx="939.2" cy="880.3" r="2.65"/><circle cx="940.3" cy="880.3" r="2.65"/><circle cx="941.3" cy="880.3" r="2.65"/><circle cx="942.4" cy="880.3" r="2.65"/><circle cx="943.5" cy="880.3" r="2.65"/><circle cx="950.3" cy="880.3" r="2.65"/><circle cx="953.7" cy="880.3" r="2.65"/><circle cx="955.5" cy="880.3" r="2.65"/><circle cx="956.8" cy="880.3" r="2.65"/><circle cx="965.4" cy="880.3" r="2.65"/><circle cx="966.6" cy="880.3" r="2.65"/><circle cx="974.5" cy="880.3" r="2.65"/></g>
<path d="M791.7 935.8 H822.4 M863.7 935.8 H921.2" stroke="#151515" stroke-width="1.8" stroke-dasharray="3.2 3.9" fill="none"/>
<path d="M791.7 927.2 V944.2 M921.2 927.2 V944.2" stroke="#161616" stroke-width="1.7" fill="none"/>
<rect x="822.4" y="918.9" width="41.3" height="33.8" fill="#f8bdd7" stroke="#161616" stroke-width="1.6"/>
<path d="M839.8 918.9 V952.6" stroke="#161616" stroke-width="1.9" fill="none"/>
<g fill="none" stroke="#262626" stroke-width="1.4"><circle cx="925.0" cy="935.8" r="2.65"/><circle cx="925.9" cy="935.8" r="2.65"/><circle cx="926.8" cy="935.8" r="2.65"/><circle cx="927.7" cy="935.8" r="2.65"/><circle cx="928.6" cy="935.8" r="2.65"/><circle cx="929.5" cy="935.8" r="2.65"/><circle cx="936.8" cy="935.8" r="2.65"/><circle cx="945.5" cy="935.8" r="2.65"/><circle cx="947.0" cy="935.8" r="2.65"/><circle cx="949.0" cy="935.8" r="2.65"/><circle cx="959.4" cy="935.8" r="2.65"/><circle cx="979.7" cy="935.8" r="2.65"/><circle cx="1014.8" cy="935.8" r="2.65"/></g>
<path d="M799.5 991.2 H819.0 M860.1 991.2 H919.1" stroke="#151515" stroke-width="1.8" stroke-dasharray="3.2 3.9" fill="none"/>
<path d="M799.5 982.7 V999.7 M919.1 982.7 V999.7" stroke="#161616" stroke-width="1.7" fill="none"/>
<rect x="819.0" y="974.3" width="41.1" height="33.8" fill="#fdcab5" stroke="#161616" stroke-width="1.6"/>
<path d="M832.8 974.3 V1008.1" stroke="#161616" stroke-width="1.9" fill="none"/>
<g fill="none" stroke="#262626" stroke-width="1.4"><circle cx="939.4" cy="991.2" r="2.65"/></g>
<text transform="matrix(0.8161 0.5779 -0.4894 0.8721 773.8 106.90)" text-anchor="end" font-family='"Liberation Sans", Arial, sans-serif' font-size="13.5" fill="#4a4a4a" stroke="#4a4a4a" stroke-width="0.35">Glioma</text>
<text transform="matrix(0.8161 0.5779 -0.4894 0.8721 773.8 162.37)" text-anchor="end" font-family='"Liberation Sans", Arial, sans-serif' font-size="13.5" fill="#4a4a4a" stroke="#4a4a4a" stroke-width="0.35">Thyroid cancer</text>
<text transform="matrix(0.8161 0.5779 -0.4894 0.8721 773.8 217.84)" text-anchor="end" font-family='"Liberation Sans", Arial, sans-serif' font-size="13.5" fill="#4a4a4a" stroke="#4a4a4a" stroke-width="0.35">Lung cancer</text>
<text transform="matrix(0.8161 0.5779 -0.4894 0.8721 773.8 273.31)" text-anchor="end" font-family='"Liberation Sans", Arial, sans-serif' font-size="13.5" fill="#4a4a4a" stroke="#4a4a4a" stroke-width="0.35">Colorectal cancer</text>
<text transform="matrix(0.8161 0.5779 -0.4894 0.8721 773.8 328.78)" text-anchor="end" font-family='"Liberation Sans", Arial, sans-serif' font-size="13.5" fill="#4a4a4a" stroke="#4a4a4a" stroke-width="0.35">Head and neck cancer</text>
<text transform="matrix(0.8161 0.5779 -0.4894 0.8721 773.8 384.25)" text-anchor="end" font-family='"Liberation Sans", Arial, sans-serif' font-size="13.5" fill="#4a4a4a" stroke="#4a4a4a" stroke-width="0.35">Stomach cancer</text>
<text transform="matrix(0.8161 0.5779 -0.4894 0.8721 773.8 439.72)" text-anchor="end" font-family='"Liberation Sans", Arial, sans-serif' font-size="13.5" fill="#4a4a4a" stroke="#4a4a4a" stroke-width="0.35">Liver cancer</text>
<text transform="matrix(0.8161 0.5779 -0.4894 0.8721 773.8 495.19)" text-anchor="end" font-family='"Liberation Sans", Arial, sans-serif' font-size="13.5" fill="#4a4a4a" stroke="#4a4a4a" stroke-width="0.35">Pancreatic cancer</text>
<text transform="matrix(0.8161 0.5779 -0.4894 0.8721 773.8 550.66)" text-anchor="end" font-family='"Liberation Sans", Arial, sans-serif' font-size="13.5" fill="#4a4a4a" stroke="#4a4a4a" stroke-width="0.35">Renal cancer</text>
<text transform="matrix(0.8161 0.5779 -0.4894 0.8721 773.8 606.13)" text-anchor="end" font-family='"Liberation Sans", Arial, sans-serif' font-size="13.5" fill="#4a4a4a" stroke="#4a4a4a" stroke-width="0.35">Urothelial cancer</text>
<text transform="matrix(0.8161 0.5779 -0.4894 0.8721 773.8 661.60)" text-anchor="end" font-family='"Liberation Sans", Arial, sans-serif' font-size="13.5" fill="#4a4a4a" stroke="#4a4a4a" stroke-width="0.35">Prostate cancer</text>
<text transform="matrix(0.8161 0.5779 -0.4894 0.8721 773.8 717.07)" text-anchor="end" font-family='"Liberation Sans", Arial, sans-serif' font-size="13.5" fill="#4a4a4a" stroke="#4a4a4a" stroke-width="0.35">Testis cancer</text>
<text transform="matrix(0.8161 0.5779 -0.4894 0.8721 773.8 772.54)" text-anchor="end" font-family='"Liberation Sans", Arial, sans-serif' font-size="13.5" fill="#4a4a4a" stroke="#4a4a4a" stroke-width="0.35">Breast cancer</text>
<text transform="matrix(0.8161 0.5779 -0.4894 0.8721 773.8 828.01)" text-anchor="end" font-family='"Liberation Sans", Arial, sans-serif' font-size="13.5" fill="#4a4a4a" stroke="#4a4a4a" stroke-width="0.35">Cervical cancer</text>
<text transform="matrix(0.8161 0.5779 -0.4894 0.8721 773.8 883.48)" text-anchor="end" font-family='"Liberation Sans", Arial, sans-serif' font-size="13.5" fill="#4a4a4a" stroke="#4a4a4a" stroke-width="0.35">Endometrial cancer</text>
<text transform="matrix(0.8161 0.5779 -0.4894 0.8721 773.8 938.95)" text-anchor="end" font-family='"Liberation Sans", Arial, sans-serif' font-size="13.5" fill="#4a4a4a" stroke="#4a4a4a" stroke-width="0.35">Ovarian cancer</text>
<text transform="matrix(0.8161 0.5779 -0.4894 0.8721 773.8 994.42)" text-anchor="end" font-family='"Liberation Sans", Arial, sans-serif' font-size="13.5" fill="#4a4a4a" stroke="#4a4a4a" stroke-width="0.35">Melanoma</text>
</g>
<g id="panel-c">
<rect x="1664.3" y="178.40" width="52.3" height="33.69" fill="#ff0000"/>
<rect x="1664.3" y="212.09" width="52.3" height="33.69" fill="#ff0000"/>
<rect x="1716.6" y="212.09" width="53.4" height="33.69" fill="#5f5ffc"/>
<rect x="1826.9" y="212.09" width="53.5" height="33.69" fill="#0000ff"/>
<rect x="1664.3" y="245.78" width="52.3" height="33.69" fill="#ff0000"/>
<rect x="1716.6" y="245.78" width="53.4" height="33.69" fill="#9494ff"/>
<rect x="1664.3" y="279.47" width="52.3" height="33.69" fill="#ffbfbf"/>
<rect x="1664.3" y="313.16" width="52.3" height="33.69" fill="#ff0000"/>
<rect x="1664.3" y="346.85" width="52.3" height="33.69" fill="#ff0000"/>
<rect x="1773.4" y="346.85" width="53.5" height="33.69" fill="#ff6666"/>
<rect x="1826.9" y="346.85" width="53.5" height="33.69" fill="#5f5ffc"/>
<rect x="1664.3" y="380.54" width="52.3" height="33.69" fill="#ff0000"/>
<rect x="1664.3" y="414.23" width="52.3" height="33.69" fill="#ff0000"/>
<rect x="1936.8" y="414.23" width="53.8" height="33.69" fill="#5f5ffc"/>
<rect x="1664.3" y="447.92" width="52.3" height="33.69" fill="#ffbfbf"/>
<rect x="1773.4" y="447.92" width="53.5" height="33.69" fill="#ffbfbf"/>
<rect x="1826.9" y="447.92" width="53.5" height="33.69" fill="#5f5ffc"/>
<rect x="1936.8" y="447.92" width="53.8" height="33.69" fill="#0000ff"/>
<rect x="1716.6" y="481.61" width="53.4" height="33.69" fill="#5f5ffc"/>
<rect x="1664.3" y="515.30" width="52.3" height="33.69" fill="#ff0000"/>
<rect x="1664.3" y="548.99" width="52.3" height="33.69" fill="#ff0000"/>
<rect x="1773.4" y="548.99" width="53.5" height="33.69" fill="#ff0000"/>
<rect x="1826.9" y="548.99" width="53.5" height="33.69" fill="#0000ff"/>
<rect x="1664.3" y="616.37" width="52.3" height="33.69" fill="#ff0000"/>
<rect x="1773.4" y="616.37" width="53.5" height="33.69" fill="#ff6666"/>
<rect x="1826.9" y="616.37" width="53.5" height="33.69" fill="#5f5ffc"/>
<rect x="1664.3" y="650.06" width="52.3" height="33.69" fill="#ff6666"/>
<rect x="1664.3" y="683.75" width="52.3" height="33.69" fill="#ff0000"/>
<rect x="1716.6" y="683.75" width="53.4" height="33.69" fill="#0000ff"/>
<rect x="1826.9" y="683.75" width="53.5" height="33.69" fill="#5f5ffc"/>
<rect x="1664.3" y="717.44" width="52.3" height="33.69" fill="#ff0000"/>
<rect x="1773.4" y="717.44" width="53.5" height="33.69" fill="#ff0000"/>
<rect x="1826.9" y="717.44" width="53.5" height="33.69" fill="#0000ff"/>
<rect x="1664.3" y="751.13" width="52.3" height="33.69" fill="#ff0000"/>
<rect x="1936.8" y="784.82" width="53.8" height="33.69" fill="#0000ff"/>
<rect x="1664.3" y="818.51" width="52.3" height="33.69" fill="#ff6666"/>
<rect x="1773.4" y="818.51" width="53.5" height="33.69" fill="#ff0000"/>
<rect x="1826.9" y="818.51" width="53.5" height="33.69" fill="#0000ff"/>
<rect x="1936.8" y="818.51" width="53.8" height="33.69" fill="#0000ff"/>
<path d="M1350.2 212.09 H1635.0 M1662.5 212.09 H1997 M1350.2 245.78 H1635.0 M1662.5 245.78 H1997 M1350.2 279.47 H1635.0 M1662.5 279.47 H1997 M1350.2 313.16 H1635.0 M1662.5 313.16 H1997 M1350.2 346.85 H1635.0 M1662.5 346.85 H1997 M1350.2 380.54 H1635.0 M1662.5 380.54 H1997 M1350.2 414.23 H1635.0 M1662.5 414.23 H1997 M1350.2 447.92 H1635.0 M1662.5 447.92 H1997 M1350.2 481.61 H1635.0 M1662.5 481.61 H1997 M1350.2 515.30 H1635.0 M1662.5 515.30 H1997 M1350.2 548.99 H1635.0 M1662.5 548.99 H1997 M1350.2 582.68 H1635.0 M1662.5 582.68 H1997 M1350.2 616.37 H1635.0 M1662.5 616.37 H1997 M1350.2 650.06 H1635.0 M1662.5 650.06 H1997 M1350.2 683.75 H1635.0 M1662.5 683.75 H1997 M1350.2 717.44 H1635.0 M1662.5 717.44 H1997 M1350.2 751.13 H1635.0 M1662.5 751.13 H1997 M1350.2 784.82 H1635.0 M1662.5 784.82 H1997 M1350.2 818.51 H1635.0 M1662.5 818.51 H1997 M1350.2 885.4 H1635.0 M1662.5 885.4 H1997 M1716.6 177.5 V885.4 M1826.9 177.5 V885.4 M1936.8 177.5 V885.4 " stroke="#000" stroke-opacity="0.2" stroke-width="1.6" fill="none"/>
<path d="M1350.2 9.3 H1635.0 V917.7 H1350.2 Z M1350.2 177.5 H1635.0 M1350.2 852.0 H1635.0 M1997 9.3 H1662.5 V917.7 H1997 M1662.5 177.5 H1997 M1662.5 852.0 H1997 M1772.0 9.3 V917.7 M1882.3 42.2 V917.7 M1992.1 9.3 V917.7 M1772.0 42.2 H1997 " stroke="#2a2a2a" stroke-width="3.2" fill="none" stroke-linejoin="miter"/>
<text x="1490.6" y="95.6" text-anchor="middle" font-family='"DejaVu Sans", "Liberation Sans", sans-serif' font-size="19" fill="#333" stroke="#333" stroke-width="0.3" textLength="236.5" lengthAdjust="spacingAndGlyphs">Analysis Type by Cancer</text>
<text x="1717.0" y="32.4" text-anchor="middle" font-family='"DejaVu Sans", "Liberation Sans", sans-serif' font-size="18.6" fill="#2c6db3" stroke="#2c6db3" stroke-width="0.35" textLength="66.0" lengthAdjust="spacingAndGlyphs">Cancer</text>
<text x="1717.0" y="50.8" text-anchor="middle" font-family='"DejaVu Sans", "Liberation Sans", sans-serif' font-size="18.6" fill="#2c6db3" stroke="#2c6db3" stroke-width="0.35" textLength="25.0" lengthAdjust="spacingAndGlyphs">vs.</text>
<text x="1717.0" y="69.2" text-anchor="middle" font-family='"DejaVu Sans", "Liberation Sans", sans-serif' font-size="18.6" fill="#2c6db3" stroke="#2c6db3" stroke-width="0.35" textLength="71.2" lengthAdjust="spacingAndGlyphs">Normal</text>
<text x="1880.7" y="32.4" text-anchor="middle" font-family='"DejaVu Sans", "Liberation Sans", sans-serif' font-size="18.6" fill="#2c6db3" stroke="#2c6db3" stroke-width="0.35" textLength="173.5" lengthAdjust="spacingAndGlyphs">Cancer vs. Cancer</text>
<text transform="translate(1824.6 165.6) rotate(-90)" font-family='"DejaVu Sans", "Liberation Sans", sans-serif' font-size="16.6" fill="#2c6db3" stroke="#2c6db3" stroke-width="0.3" textLength="58.7" lengthAdjust="spacingAndGlyphs">Cancer</text>
<text transform="translate(1846.2 165.6) rotate(-90)" font-family='"DejaVu Sans", "Liberation Sans", sans-serif' font-size="16.6" fill="#2c6db3" stroke="#2c6db3" stroke-width="0.3" textLength="84.6" lengthAdjust="spacingAndGlyphs">Histology</text>
<text transform="translate(1945.8 165.6) rotate(-90)" font-family='"DejaVu Sans", "Liberation Sans", sans-serif' font-size="16.6" fill="#2c6db3" stroke="#2c6db3" stroke-width="0.3" textLength="112.0" lengthAdjust="spacingAndGlyphs">Multi-cancer</text>
<text x="1625.4" y="200.5" text-anchor="end" font-family='"DejaVu Sans", "Liberation Sans", sans-serif' font-size="19" fill="#2c6db3" stroke="#2c6db3" stroke-width="0.5" textLength="146.5" lengthAdjust="spacingAndGlyphs">Bladder Cancer</text>
<text x="1690.4" y="200.2" text-anchor="middle" font-family='"DejaVu Sans", "Liberation Sans", sans-serif' font-size="17.6" fill="#fff" stroke="#fff" stroke-width="1.0" stroke-linejoin="round">4</text>
<text x="1625.4" y="234.2" text-anchor="end" font-family='"DejaVu Sans", "Liberation Sans", sans-serif' font-size="19" fill="#2c6db3" stroke="#2c6db3" stroke-width="0.5" textLength="210.5" lengthAdjust="spacingAndGlyphs">Brain and CNS Cancer</text>
<text x="1690.4" y="233.9" text-anchor="middle" font-family='"DejaVu Sans", "Liberation Sans", sans-serif' font-size="17.6" fill="#fff" stroke="#fff" stroke-width="1.0" stroke-linejoin="round">2</text>
<text x="1743.3" y="233.9" text-anchor="middle" font-family='"DejaVu Sans", "Liberation Sans", sans-serif' font-size="17.6" fill="#222" stroke="#222" stroke-width="1.0" stroke-linejoin="round">1</text>
<text x="1853.7" y="233.9" text-anchor="middle" font-family='"DejaVu Sans", "Liberation Sans", sans-serif' font-size="17.6" fill="#fff" stroke="#fff" stroke-width="1.0" stroke-linejoin="round">1</text>
<text x="1625.4" y="267.9" text-anchor="end" font-family='"DejaVu Sans", "Liberation Sans", sans-serif' font-size="19" fill="#2c6db3" stroke="#2c6db3" stroke-width="0.5" textLength="133.7" lengthAdjust="spacingAndGlyphs">Breast Cancer</text>
<text x="1690.4" y="267.6" text-anchor="middle" font-family='"DejaVu Sans", "Liberation Sans", sans-serif' font-size="17.6" fill="#fff" stroke="#fff" stroke-width="1.0" stroke-linejoin="round">10</text>
<text x="1743.3" y="267.6" text-anchor="middle" font-family='"DejaVu Sans", "Liberation Sans", sans-serif' font-size="17.6" fill="#222" stroke="#222" stroke-width="1.0" stroke-linejoin="round">1</text>
<text x="1625.4" y="301.6" text-anchor="end" font-family='"DejaVu Sans", "Liberation Sans", sans-serif' font-size="19" fill="#2c6db3" stroke="#2c6db3" stroke-width="0.5" textLength="150.6" lengthAdjust="spacingAndGlyphs">Cervical Cancer</text>
<text x="1690.4" y="301.3" text-anchor="middle" font-family='"DejaVu Sans", "Liberation Sans", sans-serif' font-size="17.6" fill="#222" stroke="#222" stroke-width="1.0" stroke-linejoin="round">2</text>
<text x="1625.4" y="335.3" text-anchor="end" font-family='"DejaVu Sans", "Liberation Sans", sans-serif' font-size="19" fill="#2c6db3" stroke="#2c6db3" stroke-width="0.5" textLength="172.5" lengthAdjust="spacingAndGlyphs">Colorectal Cancer</text>
<text x="1690.4" y="335.0" text-anchor="middle" font-family='"DejaVu Sans", "Liberation Sans", sans-serif' font-size="17.6" fill="#fff" stroke="#fff" stroke-width="1.0" stroke-linejoin="round">12</text>
<text x="1625.4" y="369.0" text-anchor="end" font-family='"DejaVu Sans", "Liberation Sans", sans-serif' font-size="19" fill="#2c6db3" stroke="#2c6db3" stroke-width="0.5" textLength="183.2" lengthAdjust="spacingAndGlyphs">Esophageal Cancer</text>
<text x="1690.4" y="368.7" text-anchor="middle" font-family='"DejaVu Sans", "Liberation Sans", sans-serif' font-size="17.6" fill="#fff" stroke="#fff" stroke-width="1.0" stroke-linejoin="round">2</text>
<text x="1800.2" y="368.7" text-anchor="middle" font-family='"DejaVu Sans", "Liberation Sans", sans-serif' font-size="17.6" fill="#222" stroke="#222" stroke-width="1.0" stroke-linejoin="round">1</text>
<text x="1853.7" y="368.7" text-anchor="middle" font-family='"DejaVu Sans", "Liberation Sans", sans-serif' font-size="17.6" fill="#222" stroke="#222" stroke-width="1.0" stroke-linejoin="round">1</text>
<text x="1625.4" y="402.7" text-anchor="end" font-family='"DejaVu Sans", "Liberation Sans", sans-serif' font-size="19" fill="#2c6db3" stroke="#2c6db3" stroke-width="0.5" textLength="141.5" lengthAdjust="spacingAndGlyphs">Gastric Cancer</text>
<text x="1690.4" y="402.4" text-anchor="middle" font-family='"DejaVu Sans", "Liberation Sans", sans-serif' font-size="17.6" fill="#fff" stroke="#fff" stroke-width="1.0" stroke-linejoin="round">3</text>
<text x="1625.4" y="436.4" text-anchor="end" font-family='"DejaVu Sans", "Liberation Sans", sans-serif' font-size="19" fill="#2c6db3" stroke="#2c6db3" stroke-width="0.5" textLength="219.6" lengthAdjust="spacingAndGlyphs">Head and Neck Cancer</text>
<text x="1690.4" y="436.1" text-anchor="middle" font-family='"DejaVu Sans", "Liberation Sans", sans-serif' font-size="17.6" fill="#fff" stroke="#fff" stroke-width="1.0" stroke-linejoin="round">7</text>
<text x="1963.7" y="436.1" text-anchor="middle" font-family='"DejaVu Sans", "Liberation Sans", sans-serif' font-size="17.6" fill="#222" stroke="#222" stroke-width="1.0" stroke-linejoin="round">1</text>
<text x="1625.4" y="470.1" text-anchor="end" font-family='"DejaVu Sans", "Liberation Sans", sans-serif' font-size="19" fill="#2c6db3" stroke="#2c6db3" stroke-width="0.5" textLength="139.5" lengthAdjust="spacingAndGlyphs">Kidney Cancer</text>
<text x="1690.4" y="469.8" text-anchor="middle" font-family='"DejaVu Sans", "Liberation Sans", sans-serif' font-size="17.6" fill="#222" stroke="#222" stroke-width="1.0" stroke-linejoin="round">1</text>
<text x="1800.2" y="469.8" text-anchor="middle" font-family='"DejaVu Sans", "Liberation Sans", sans-serif' font-size="17.6" fill="#222" stroke="#222" stroke-width="1.0" stroke-linejoin="round">1</text>
<text x="1853.7" y="469.8" text-anchor="middle" font-family='"DejaVu Sans", "Liberation Sans", sans-serif' font-size="17.6" fill="#222" stroke="#222" stroke-width="1.0" stroke-linejoin="round">3</text>
<text x="1963.7" y="469.8" text-anchor="middle" font-family='"DejaVu Sans", "Liberation Sans", sans-serif' font-size="17.6" fill="#fff" stroke="#fff" stroke-width="1.0" stroke-linejoin="round">1</text>
<text x="1625.4" y="503.8" text-anchor="end" font-family='"DejaVu Sans", "Liberation Sans", sans-serif' font-size="19" fill="#2c6db3" stroke="#2c6db3" stroke-width="0.5" textLength="93.3" lengthAdjust="spacingAndGlyphs">Leukemia</text>
<text x="1743.3" y="503.5" text-anchor="middle" font-family='"DejaVu Sans", "Liberation Sans", sans-serif' font-size="17.6" fill="#222" stroke="#222" stroke-width="1.0" stroke-linejoin="round">1</text>
<text x="1625.4" y="537.4" text-anchor="end" font-family='"DejaVu Sans", "Liberation Sans", sans-serif' font-size="19" fill="#2c6db3" stroke="#2c6db3" stroke-width="0.5" textLength="119.2" lengthAdjust="spacingAndGlyphs">Liver Cancer</text>
<text x="1690.4" y="537.1" text-anchor="middle" font-family='"DejaVu Sans", "Liberation Sans", sans-serif' font-size="17.6" fill="#fff" stroke="#fff" stroke-width="1.0" stroke-linejoin="round">4</text>
<text x="1625.4" y="571.1" text-anchor="end" font-family='"DejaVu Sans", "Liberation Sans", sans-serif' font-size="19" fill="#2c6db3" stroke="#2c6db3" stroke-width="0.5" textLength="120.9" lengthAdjust="spacingAndGlyphs">Lung Cancer</text>
<text x="1690.4" y="570.8" text-anchor="middle" font-family='"DejaVu Sans", "Liberation Sans", sans-serif' font-size="17.6" fill="#fff" stroke="#fff" stroke-width="1.0" stroke-linejoin="round">10</text>
<text x="1800.2" y="570.8" text-anchor="middle" font-family='"DejaVu Sans", "Liberation Sans", sans-serif' font-size="17.6" fill="#fff" stroke="#fff" stroke-width="1.0" stroke-linejoin="round">3</text>
<text x="1853.7" y="570.8" text-anchor="middle" font-family='"DejaVu Sans", "Liberation Sans", sans-serif' font-size="17.6" fill="#fff" stroke="#fff" stroke-width="1.0" stroke-linejoin="round">3</text>
<text x="1625.4" y="604.8" text-anchor="end" font-family='"DejaVu Sans", "Liberation Sans", sans-serif' font-size="19" fill="#2c6db3" stroke="#2c6db3" stroke-width="0.5" textLength="106.1" lengthAdjust="spacingAndGlyphs">Lymphoma</text>
<text x="1625.4" y="638.5" text-anchor="end" font-family='"DejaVu Sans", "Liberation Sans", sans-serif' font-size="19" fill="#2c6db3" stroke="#2c6db3" stroke-width="0.5" textLength="100.7" lengthAdjust="spacingAndGlyphs">Melanoma</text>
<text x="1690.4" y="638.2" text-anchor="middle" font-family='"DejaVu Sans", "Liberation Sans", sans-serif' font-size="17.6" fill="#fff" stroke="#fff" stroke-width="1.0" stroke-linejoin="round">2</text>
<text x="1800.2" y="638.2" text-anchor="middle" font-family='"DejaVu Sans", "Liberation Sans", sans-serif' font-size="17.6" fill="#222" stroke="#222" stroke-width="1.0" stroke-linejoin="round">1</text>
<text x="1853.7" y="638.2" text-anchor="middle" font-family='"DejaVu Sans", "Liberation Sans", sans-serif' font-size="17.6" fill="#222" stroke="#222" stroke-width="1.0" stroke-linejoin="round">1</text>
<text x="1625.4" y="672.2" text-anchor="end" font-family='"DejaVu Sans", "Liberation Sans", sans-serif' font-size="19" fill="#2c6db3" stroke="#2c6db3" stroke-width="0.5" textLength="85.9" lengthAdjust="spacingAndGlyphs">Myeloma</text>
<text x="1690.4" y="671.9" text-anchor="middle" font-family='"DejaVu Sans", "Liberation Sans", sans-serif' font-size="17.6" fill="#222" stroke="#222" stroke-width="1.0" stroke-linejoin="round">1</text>
<text x="1625.4" y="705.9" text-anchor="end" font-family='"DejaVu Sans", "Liberation Sans", sans-serif' font-size="19" fill="#2c6db3" stroke="#2c6db3" stroke-width="0.5" textLength="128.0" lengthAdjust="spacingAndGlyphs">Other Cancer</text>
<text x="1690.4" y="705.6" text-anchor="middle" font-family='"DejaVu Sans", "Liberation Sans", sans-serif' font-size="17.6" fill="#fff" stroke="#fff" stroke-width="1.0" stroke-linejoin="round">4</text>
<text x="1743.3" y="705.6" text-anchor="middle" font-family='"DejaVu Sans", "Liberation Sans", sans-serif' font-size="17.6" fill="#fff" stroke="#fff" stroke-width="1.0" stroke-linejoin="round">2</text>
<text x="1853.7" y="705.6" text-anchor="middle" font-family='"DejaVu Sans", "Liberation Sans", sans-serif' font-size="17.6" fill="#222" stroke="#222" stroke-width="1.0" stroke-linejoin="round">1</text>
<text x="1625.4" y="739.6" text-anchor="end" font-family='"DejaVu Sans", "Liberation Sans", sans-serif' font-size="19" fill="#2c6db3" stroke="#2c6db3" stroke-width="0.5" textLength="148.2" lengthAdjust="spacingAndGlyphs">Ovarian Cancer</text>
<text x="1690.4" y="739.3" text-anchor="middle" font-family='"DejaVu Sans", "Liberation Sans", sans-serif' font-size="17.6" fill="#fff" stroke="#fff" stroke-width="1.0" stroke-linejoin="round">3</text>
<text x="1800.2" y="739.3" text-anchor="middle" font-family='"DejaVu Sans", "Liberation Sans", sans-serif' font-size="17.6" fill="#fff" stroke="#fff" stroke-width="1.0" stroke-linejoin="round">3</text>
<text x="1853.7" y="739.3" text-anchor="middle" font-family='"DejaVu Sans", "Liberation Sans", sans-serif' font-size="17.6" fill="#fff" stroke="#fff" stroke-width="1.0" stroke-linejoin="round">3</text>
<text x="1625.4" y="773.3" text-anchor="end" font-family='"DejaVu Sans", "Liberation Sans", sans-serif' font-size="19" fill="#2c6db3" stroke="#2c6db3" stroke-width="0.5" textLength="172.5" lengthAdjust="spacingAndGlyphs">Pancreatic Cancer</text>
<text x="1690.4" y="773.0" text-anchor="middle" font-family='"DejaVu Sans", "Liberation Sans", sans-serif' font-size="17.6" fill="#fff" stroke="#fff" stroke-width="1.0" stroke-linejoin="round">3</text>
<text x="1625.4" y="807.0" text-anchor="end" font-family='"DejaVu Sans", "Liberation Sans", sans-serif' font-size="19" fill="#2c6db3" stroke="#2c6db3" stroke-width="0.5" textLength="152.3" lengthAdjust="spacingAndGlyphs">Prostate Cancer</text>
<text x="1963.7" y="806.7" text-anchor="middle" font-family='"DejaVu Sans", "Liberation Sans", sans-serif' font-size="17.6" fill="#fff" stroke="#fff" stroke-width="1.0" stroke-linejoin="round">2</text>
<text x="1625.4" y="840.7" text-anchor="end" font-family='"DejaVu Sans", "Liberation Sans", sans-serif' font-size="19" fill="#2c6db3" stroke="#2c6db3" stroke-width="0.5" textLength="82.5" lengthAdjust="spacingAndGlyphs">Sarcoma</text>
<text x="1690.4" y="840.4" text-anchor="middle" font-family='"DejaVu Sans", "Liberation Sans", sans-serif' font-size="17.6" fill="#222" stroke="#222" stroke-width="1.0" stroke-linejoin="round">5</text>
<text x="1800.2" y="840.4" text-anchor="middle" font-family='"DejaVu Sans", "Liberation Sans", sans-serif' font-size="17.6" fill="#fff" stroke="#fff" stroke-width="1.0" stroke-linejoin="round">4</text>
<text x="1853.7" y="840.4" text-anchor="middle" font-family='"DejaVu Sans", "Liberation Sans", sans-serif' font-size="17.6" fill="#fff" stroke="#fff" stroke-width="1.0" stroke-linejoin="round">1</text>
<text x="1963.7" y="840.4" text-anchor="middle" font-family='"DejaVu Sans", "Liberation Sans", sans-serif' font-size="17.6" fill="#fff" stroke="#fff" stroke-width="1.0" stroke-linejoin="round">1</text>
<text x="1625.4" y="875.1" text-anchor="end" font-family='"DejaVu Sans", "Liberation Sans", sans-serif' font-size="18.5" fill="#333" stroke="#333" stroke-width="0.3" textLength="267.4" lengthAdjust="spacingAndGlyphs">Significant Unique Analyses</text>
<text x="1625.4" y="907.9" text-anchor="end" font-family='"DejaVu Sans", "Liberation Sans", sans-serif' font-size="18.5" fill="#333" stroke="#333" stroke-width="0.3" textLength="213.6" lengthAdjust="spacingAndGlyphs">Total Unique Analyses</text>
<text x="1690.4" y="875.1" text-anchor="middle" font-family='"DejaVu Sans", "Liberation Sans", sans-serif' font-size="19" fill="#3a3a3a" stroke="#3a3a3a" stroke-width="0.35">74</text>
<text x="1743.3" y="875.1" text-anchor="middle" font-family='"DejaVu Sans", "Liberation Sans", sans-serif' font-size="19" fill="#3a3a3a" stroke="#3a3a3a" stroke-width="0.35">5</text>
<text x="1800.2" y="875.1" text-anchor="middle" font-family='"DejaVu Sans", "Liberation Sans", sans-serif' font-size="19" fill="#3a3a3a" stroke="#3a3a3a" stroke-width="0.35">13</text>
<text x="1853.7" y="875.1" text-anchor="middle" font-family='"DejaVu Sans", "Liberation Sans", sans-serif' font-size="19" fill="#3a3a3a" stroke="#3a3a3a" stroke-width="0.35">14</text>
<text x="1963.7" y="875.1" text-anchor="middle" font-family='"DejaVu Sans", "Liberation Sans", sans-serif' font-size="19" fill="#3a3a3a" stroke="#3a3a3a" stroke-width="0.35">4</text>
<text x="1717.2" y="907.9" text-anchor="middle" font-family='"DejaVu Sans", "Liberation Sans", sans-serif' font-size="19" fill="#3a3a3a" stroke="#3a3a3a" stroke-width="0.35">445</text>
<text x="1826.9" y="907.9" text-anchor="middle" font-family='"DejaVu Sans", "Liberation Sans", sans-serif' font-size="19" fill="#3a3a3a" stroke="#3a3a3a" stroke-width="0.35">743</text>
<text x="1937.2" y="907.9" text-anchor="middle" font-family='"DejaVu Sans", "Liberation Sans", sans-serif' font-size="19" fill="#3a3a3a" stroke="#3a3a3a" stroke-width="0.35">271</text>
<rect x="1385.0" y="992.6" width="22.2" height="19.6" fill="#0000ff" stroke="#2b2b2b" stroke-width="2"/>
<text x="1396.4" y="983.8" text-anchor="middle" font-family='"DejaVu Sans", "Liberation Sans", sans-serif' font-size="17" fill="#3a3a3a" stroke="#3a3a3a" stroke-width="0.4">1</text>
<rect x="1419.8" y="992.6" width="22.2" height="19.6" fill="#5f5ffc" stroke="#2b2b2b" stroke-width="2"/>
<text x="1431.2" y="983.8" text-anchor="middle" font-family='"DejaVu Sans", "Liberation Sans", sans-serif' font-size="17" fill="#3a3a3a" stroke="#3a3a3a" stroke-width="0.4">5</text>
<rect x="1452.7" y="992.6" width="22.2" height="19.6" fill="#9494ff" stroke="#2b2b2b" stroke-width="2"/>
<text x="1464.1" y="983.8" text-anchor="middle" font-family='"DejaVu Sans", "Liberation Sans", sans-serif' font-size="17" fill="#3a3a3a" stroke="#3a3a3a" stroke-width="0.4">10</text>
<rect x="1486.5" y="992.6" width="22.2" height="19.6" fill="#ffffff" stroke="#2b2b2b" stroke-width="2"/>
<rect x="1520.9" y="992.6" width="22.2" height="19.6" fill="#ffbfbf" stroke="#2b2b2b" stroke-width="2"/>
<text x="1532.3" y="983.8" text-anchor="middle" font-family='"DejaVu Sans", "Liberation Sans", sans-serif' font-size="17" fill="#3a3a3a" stroke="#3a3a3a" stroke-width="0.4">10</text>
<rect x="1554.3" y="992.6" width="22.2" height="19.6" fill="#ff6666" stroke="#2b2b2b" stroke-width="2"/>
<text x="1565.7" y="983.8" text-anchor="middle" font-family='"DejaVu Sans", "Liberation Sans", sans-serif' font-size="17" fill="#3a3a3a" stroke="#3a3a3a" stroke-width="0.4">5</text>
<rect x="1588.5" y="992.6" width="22.2" height="19.6" fill="#ff0000" stroke="#2b2b2b" stroke-width="2"/>
<text x="1599.9" y="983.8" text-anchor="middle" font-family='"DejaVu Sans", "Liberation Sans", sans-serif' font-size="17" fill="#3a3a3a" stroke="#3a3a3a" stroke-width="0.4">1</text>
<path d="M1412 1023.8 H1476 M1523.4 1023.8 H1594" stroke="#3a3a3a" stroke-width="2" fill="none"/>
<path d="M1398 1023.8 L1414 1019.4 V1028.2 Z M1608.6 1023.8 L1592.6 1019.4 V1028.2 Z" fill="#111"/>
<text x="1498" y="1031" text-anchor="middle" font-family='"DejaVu Sans", "Liberation Sans", sans-serif' font-size="15" fill="#858585" stroke="#858585" stroke-width="0.5">%</text>
</g>
<text x="561.2" y="998.6" font-family='"Liberation Sans", Arial, sans-serif' font-size="41" font-weight="bold" fill="#0c0c0c" textLength="50" lengthAdjust="spacingAndGlyphs">(a)</text>
<text x="1240.7" y="998.6" font-family='"Liberation Sans", Arial, sans-serif' font-size="41" font-weight="bold" fill="#0c0c0c" textLength="50" lengthAdjust="spacingAndGlyphs">(b)</text>
<text x="1908.7" y="998.6" font-family='"Liberation Sans", Arial, sans-serif' font-size="41" font-weight="bold" fill="#0c0c0c" textLength="50" lengthAdjust="spacingAndGlyphs">(c)</text>
</svg></body></html>
